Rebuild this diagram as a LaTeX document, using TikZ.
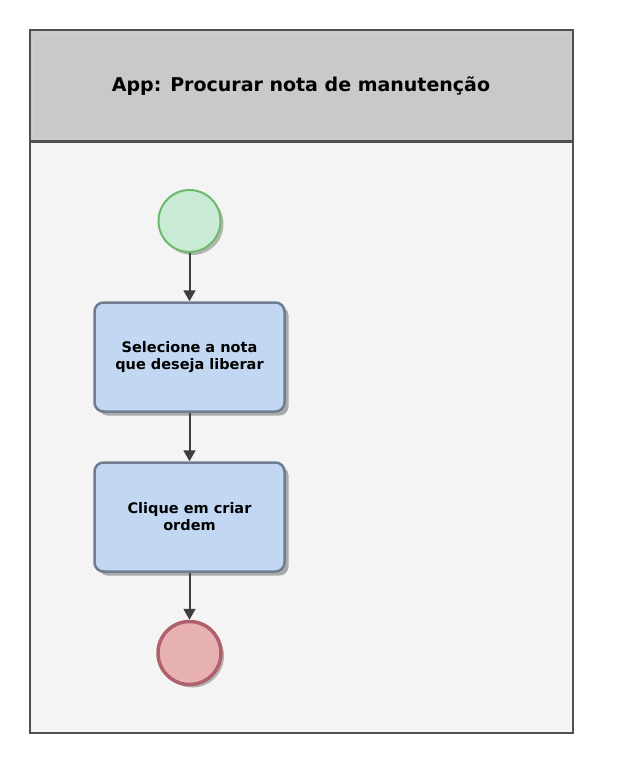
\documentclass[tikz,border=0pt]{standalone}
\usepackage{fontspec}
\setmainfont{DejaVu Sans}
\usetikzlibrary{arrows.meta,shadows}
\definecolor{hdr}{HTML}{C9C9C9}
\definecolor{bodybg}{HTML}{F4F4F4}
\definecolor{frame}{HTML}{505050}
\definecolor{taskfill}{HTML}{C2D7F2}
\definecolor{taskdraw}{HTML}{6E7E90}
\definecolor{startfill}{HTML}{C9EAD5}
\definecolor{startdraw}{HTML}{6CB96C}
\definecolor{endfill}{HTML}{E8B1B2}
\definecolor{enddraw}{HTML}{B0606A}
\definecolor{arrowc}{HTML}{3F3F3F}
\tikzset{
  x=1pt,y=-1pt,
  task/.style={draw=taskdraw,line width=2.5pt,fill=taskfill,rounded corners=9pt,
    minimum width=190pt,minimum height=109pt,align=center,
    font=\fontsize{14.5}{17}\selectfont\bfseries,
    drop shadow={shadow xshift=4pt,shadow yshift=-4pt,fill=black!45,opacity=0.7}},
  startev/.style={circle,draw=startdraw,line width=2pt,fill=startfill,minimum size=62pt,inner sep=0pt,
    drop shadow={shadow xshift=3pt,shadow yshift=-3pt,fill=black!40,opacity=0.7}},
  endev/.style={circle,draw=enddraw,line width=3.5pt,fill=endfill,minimum size=63pt,inner sep=0pt,
    drop shadow={shadow xshift=3pt,shadow yshift=-3pt,fill=black!40,opacity=0.7}},
  flow/.style={draw=arrowc,line width=2pt,-{Triangle[length=11pt,width=12pt]}},
}
\begin{document}
\begin{tikzpicture}
\useasboundingbox (0,0) rectangle (616,765);
\fill[white] (0,0) rectangle (616,765);
\fill[bodybg] (30,141) rectangle (573,733);
\fill[hdr] (30,30) rectangle (573,141);
\draw[frame,line width=2pt] (30,30) rectangle (573,733);
\draw[frame,line width=3pt] (30,141) -- (573,141);
\draw[white!80!black,line width=1.5pt] (33,33) rectangle (570,138);
\node[font=\fontsize{19}{22}\selectfont\bfseries] (title) at (301,86) {App: Procurar nota de manutenção};
\node[startev] (s) at (189.5,221) {};
\node[task] (t1) at (189.5,357) {Selecione a nota\\que deseja liberar};
\node[task] (t2) at (189.5,517) {Clique em criar\\ordem};
\node[endev] (e) at (189.5,653) {};
\draw[flow] (s) -- (t1);
\draw[flow] (t1) -- (t2);
\draw[flow] (t2) -- (e);
\end{tikzpicture}
\end{document}
